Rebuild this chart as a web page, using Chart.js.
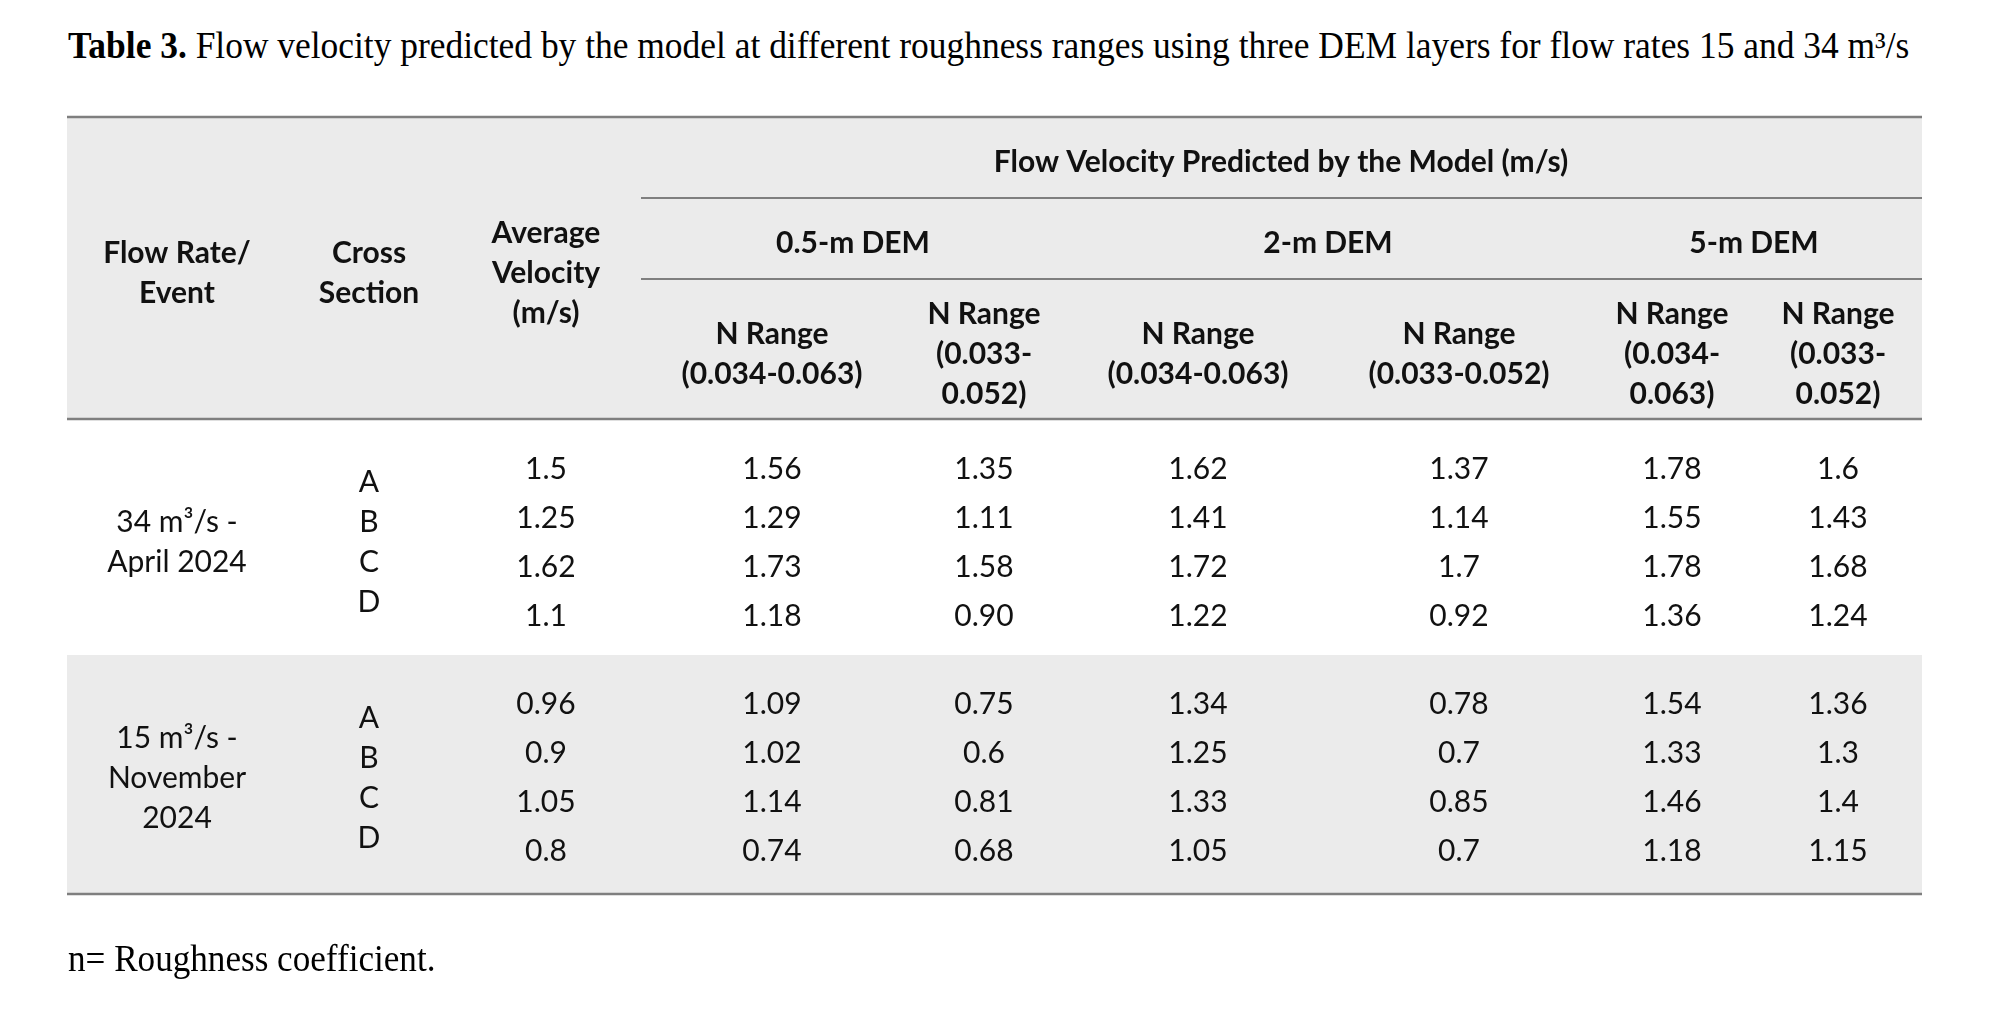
<!DOCTYPE html>
<html>
<head>
<meta charset="utf-8">
<title>Table 3. Flow velocity predicted by the model</title>
<script src="https://cdn.jsdelivr.net/npm/chart.js@4.4.1/dist/chart.umd.min.js"></script>
<style>
    html, body { margin: 0; padding: 0; background: #fff; }
    #wrap { position: relative; width: 2000px; height: 1017px; overflow: hidden; }
    #table { position: absolute; left: 0; top: 0; }
    .caption {
        position: absolute;
        left: 68px;
        font-family: 'Liberation Serif', 'Times New Roman', serif;
        font-size: 38px;
        line-height: 38px;
        white-space: nowrap;
        transform-origin: 0 0;
        color: #000;
    }
    #title { top: 26px; }
    #note { top: 939px; }
</style>
</head>
<body>
<div id="wrap">
    <div class="caption" id="title"><b>Table 3.</b> Flow velocity predicted by the model at different roughness ranges using three DEM layers for flow rates 15 and 34 m³/s</div>
    <canvas id="table" width="2000" height="1017"></canvas>
    <div class="caption" id="note">n= Roughness coefficient.</div>
</div>

<script>
// table content //
const events = [['34 m³/s -', 'April 2024'], ['15 m³/s -', 'November', '2024']];
const crossSections = ['A', 'B', 'C', 'D'];
const groupTitle = 'Flow Velocity Predicted by the Model (m/s)';
const demLayers = ['0.5-m DEM', '2-m DEM', '5-m DEM'];
const leadHeads = [['Flow Rate/', 'Event'], ['Cross', 'Section'], ['Average', 'Velocity', '(m/s)']];
const rangeHeads = [
    ['N Range', '(0.034-0.063)'],
    ['N Range', '(0.033-', '0.052)'],
    ['N Range', '(0.034-0.063)'],
    ['N Range', '(0.033-0.052)'],
    ['N Range', '(0.034-', '0.063)'],
    ['N Range', '(0.033-', '0.052)']
];

// rows A-D for 34 m3/s, then A-D for 15 m3/s (values as printed)
const avgVelocity = ['1.5', '1.25', '1.62', '1.1', '0.96', '0.9', '1.05', '0.8'];
const dem05Range1 = ['1.56', '1.29', '1.73', '1.18', '1.09', '1.02', '1.14', '0.74'];
const dem05Range2 = ['1.35', '1.11', '1.58', '0.90', '0.75', '0.6', '0.81', '0.68'];
const dem2Range1 = ['1.62', '1.41', '1.72', '1.22', '1.34', '1.25', '1.33', '1.05'];
const dem2Range2 = ['1.37', '1.14', '1.7', '0.92', '0.78', '0.7', '0.85', '0.7'];
const dem5Range1 = ['1.78', '1.55', '1.78', '1.36', '1.54', '1.33', '1.46', '1.18'];
const dem5Range2 = ['1.6', '1.43', '1.68', '1.24', '1.36', '1.3', '1.4', '1.15'];

const valueColumns = [avgVelocity, dem05Range1, dem05Range2, dem2Range1, dem2Range2, dem5Range1, dem5Range2];

// layout (scale units = px) //
const TABLE_LEFT = 67, TABLE_RIGHT = 1922, SUB_LEFT = 641;
const COL_X = [177, 369, 546, 772, 984, 1198, 1459, 1672, 1838];
const DEM_X = [853, 1328, 1754];
const TITLE_X = 1281;
const TITLE_Y = 161, DEM_Y = 242, LEAD_Y = 272, RANGE_Y = 353;
const GROUP_Y = [541, 777];
const ROW_Y = [468, 517, 566, 615, 703, 752, 801, 850];
const LINE_H = 40;
const FONT_SIZE = 30;
const BODY_FONT = FONT_SIZE + 'px Lato';
const HEAD_FONT = 'bold ' + FONT_SIZE + 'px Lato';

const shadeBands = [[117, 419], [655, 894]];
const rules = [
    { y: 117, from: TABLE_LEFT, to: TABLE_RIGHT, w: 2.5 },
    { y: 198, from: SUB_LEFT, to: TABLE_RIGHT, w: 2 },
    { y: 279, from: SUB_LEFT, to: TABLE_RIGHT, w: 2 },
    { y: 419, from: TABLE_LEFT, to: TABLE_RIGHT, w: 2.5 },
    { y: 894, from: TABLE_LEFT, to: TABLE_RIGHT, w: 2.5 }
];

function cells(label, xs, ys, texts, font) {
    return {
        label: label,
        data: texts.map((t, i) => ({ x: xs[i % xs.length], y: ys[i % ys.length] })),
        cellText: texts,
        cellFont: font,
        pointRadius: 0,
        pointHoverRadius: 0
    };
}

const datasets = [
    cells('group title', [TITLE_X], [TITLE_Y], [groupTitle], HEAD_FONT),
    cells('dem layers', DEM_X, [DEM_Y], demLayers, HEAD_FONT),
    cells('lead heads', COL_X.slice(0, 3), [LEAD_Y], leadHeads, HEAD_FONT),
    cells('range heads', COL_X.slice(3), [RANGE_Y], rangeHeads, HEAD_FONT),
    cells('events', [COL_X[0]], GROUP_Y, events, BODY_FONT),
    cells('cross sections', [COL_X[1]], GROUP_Y, [crossSections, crossSections], BODY_FONT)
];
valueColumns.forEach((col, c) => {
    datasets.push(cells('column ' + c, [COL_X[c + 2]], ROW_Y, col, BODY_FONT));
});

// shading, rules and cell text //
const tablePlugin = {
    id: 'tableLayout',
    beforeDatasetsDraw(chart) {
        const { ctx, scales: { x, y } } = chart;
        const left = x.getPixelForValue(TABLE_LEFT);
        const right = x.getPixelForValue(TABLE_RIGHT);
        ctx.save();
        ctx.fillStyle = '#ebebeb';
        shadeBands.forEach(b => {
            const top = y.getPixelForValue(b[0]);
            ctx.fillRect(left, top, right - left, y.getPixelForValue(b[1]) - top);
        });
        ctx.strokeStyle = '#7f7f7f';
        rules.forEach(r => {
            ctx.lineWidth = r.w;
            ctx.beginPath();
            ctx.moveTo(x.getPixelForValue(r.from), y.getPixelForValue(r.y));
            ctx.lineTo(x.getPixelForValue(r.to), y.getPixelForValue(r.y));
            ctx.stroke();
        });
        ctx.restore();
    },
    afterDatasetsDraw(chart) {
        const ctx = chart.ctx;
        chart.data.datasets.forEach((ds, i) => {
            const meta = chart.getDatasetMeta(i);
            ctx.save();
            ctx.font = ds.cellFont;
            ctx.fillStyle = '#111';
            ctx.textAlign = 'center';
            ctx.textBaseline = 'alphabetic';
            meta.data.forEach((pt, j) => {
                const lines = [].concat(ds.cellText[j]);
                lines.forEach((line, k) => {
                    const dy = (k - (lines.length - 1) / 2) * LINE_H;
                    ctx.fillText(line, pt.x, pt.y + dy + FONT_SIZE * 0.36);
                });
            });
            ctx.restore();
        });
    }
};

new Chart(document.getElementById('table'), {
    type: 'scatter',
    data: { datasets: datasets },
    options: {
        responsive: false,
        animation: false,
        devicePixelRatio: 1,
        layout: { padding: 0 },
        events: [],
        scales: {
            x: { type: 'linear', min: 0, max: 2000, display: false },
            y: { type: 'linear', min: 0, max: 1017, reverse: true, display: false }
        },
        plugins: {
            legend: { display: false },
            tooltip: { enabled: false }
        }
    },
    plugins: [tablePlugin]
});

// fit the caption lines to the printed width //
function fitWidth(id, target) {
    const el = document.getElementById(id);
    el.style.transform = 'scaleX(' + (target / el.offsetWidth) + ')';
}
fitWidth('title', 1841);
fitWidth('note', 367);
</script>
</body>
</html>
